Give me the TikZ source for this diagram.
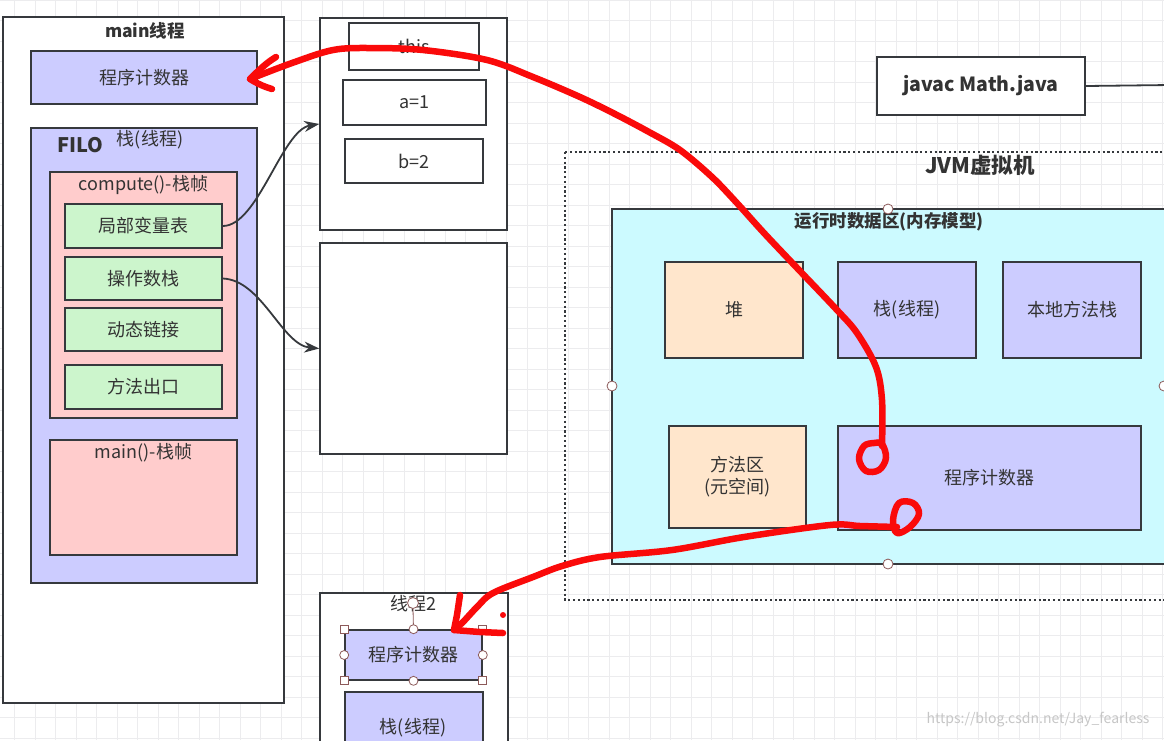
\documentclass[tikz,border=0pt]{standalone}
\usepackage{fontspec}
\setmainfont{Noto Sans CJK SC}
\usetikzlibrary{arrows.meta}
\definecolor{lc}{RGB}{54,57,61}
\definecolor{tc}{RGB}{51,51,51}
\definecolor{lav}{RGB}{204,204,255}
\definecolor{pinkf}{RGB}{255,204,204}
\definecolor{greenf}{RGB}{204,245,204}
\definecolor{peach}{RGB}{255,230,204}
\definecolor{cyanf}{RGB}{204,250,255}
\definecolor{gridc}{RGB}{236,236,238}
\definecolor{hdl}{RGB}{140,90,90}
\definecolor{penred}{RGB}{250,10,10}
\newcommand\fsz[2]{\fontsize{#1}{#2}\selectfont}
\tikzset{
  bx/.style={draw=lc, line width=1.6pt, inner sep=0pt, text=tc, font=\fsz{18}{22}, align=center},
  lbl/.style={inner sep=0pt, text=tc, font=\fsz{18}{22}, align=center},
  blbl/.style={inner sep=0pt, text=tc, font=\fsz{17.5}{21}\bfseries, align=center},
  conn/.style={draw=lc, line width=1.8pt, -{Stealth[length=15pt,width=11pt]}},
  redpen/.style={draw=penred, line width=6.5pt, line cap=round, line join=round},
  hcirc/.style={circle, draw=hdl, fill=white, line width=0.8pt, inner sep=0pt, minimum size=9pt},
  hsq/.style={rectangle, draw=hdl, fill=white, line width=0.8pt, inner sep=0pt, minimum size=8pt},
}
\begin{document}
\begin{tikzpicture}[x=1pt,y=-1pt]
\useasboundingbox (0,0) rectangle (1164,740);
\clip (0,0) rectangle (1164,740);
\fill[white] (0,0) rectangle (1164,740);
% grid
\foreach \k in {0,...,56} \draw[gridc, line width=0.8pt] ({14.5+20.5*\k},0) -- ({14.5+20.5*\k},740);
\foreach \k in {0,...,36} \draw[gridc, line width=0.8pt] (0,{20.5*\k}) -- (1164,{20.5*\k});

% ---------- main thread ----------
\node[bx, fill=white, minimum width=281pt, minimum height=686pt] (mainT) at (143.5,360) {};
\node[blbl] (mainTl) at (145,31) {main线程};
\node[bx, fill=lav, minimum width=226pt, minimum height=53pt] (pcL) at (144,77.5) {程序计数器};
\node[bx, fill=lav, minimum width=226pt, minimum height=455pt] (stackL) at (144,355.5) {};
\node[blbl, font=\fsz{20}{24}\bfseries] (filo) at (80,145) {FILO};
\node[lbl] (stackLl) at (150,140) {栈(线程)};
\node[bx, fill=pinkf, minimum width=187pt, minimum height=246pt] (computeF) at (143.5,295) {};
\node[lbl] (computeFl) at (143.5,185) {compute()-栈帧};
\node[bx, fill=greenf, minimum width=157pt, minimum height=44pt] (lv) at (143.5,226) {局部变量表};
\node[bx, fill=greenf, minimum width=157pt, minimum height=43pt] (os) at (143.5,278.5) {操作数栈};
\node[bx, fill=greenf, minimum width=157pt, minimum height=43pt] (dl) at (143.5,329.5) {动态链接};
\node[bx, fill=greenf, minimum width=157pt, minimum height=44pt] (me) at (143.5,387) {方法出口};
\node[bx, fill=pinkf, minimum width=187pt, minimum height=115pt] (mainF) at (143.5,497.5) {};
\node[lbl] (mainFl) at (143.5,453) {main()-栈帧};

% ---------- middle column ----------
\node[bx, fill=white, minimum width=187pt, minimum height=212pt] (frameA) at (413.5,124) {};
\node[bx, fill=white, minimum width=130pt, minimum height=47pt] (thisB) at (414,46.5) {this};
\node[bx, fill=white, minimum width=143pt, minimum height=45pt] (aB) at (414.5,102.5) {a=1};
\node[bx, fill=white, minimum width=138pt, minimum height=44pt] (bB) at (414,161) {b=2};
\node[bx, fill=white, minimum width=187pt, minimum height=211pt] (frameB) at (413.5,348.5) {};

\draw[conn] (lv.east) .. controls (258,226) and (282,130) .. (frameA.west);
\draw[conn] (os.east) .. controls (262,280) and (282,345) .. (frameB.west);

% ---------- thread 2 ----------
\node[bx, fill=white, minimum width=188pt, minimum height=170pt] (t2) at (414,678) {};
\node[lbl] (t2l) at (413,604) {线程2};
\node[bx, fill=lav, minimum width=137pt, minimum height=50pt] (pc2) at (413.5,655) {程序计数器};
\node[bx, fill=lav, minimum width=138pt, minimum height=80pt] (st2) at (414,732) {};
\node[lbl] (st2l) at (413,728) {栈(线程)};
% selection handles
\node[hcirc, minimum size=11pt] (rot) at (413,603) {};
\draw[hdl, line width=0.8pt] (rot.south) -- (pc2.north);
\node[hsq] at (pc2.north west) {};
\node[hsq] at (pc2.north east) {};
\node[hsq] at (pc2.south west) {};
\node[hsq] at (pc2.south east) {};
\node[hcirc] at (pc2.north) {};
\node[hcirc] at (pc2.south) {};
\node[hcirc] at (pc2.west) {};
\node[hcirc] at (pc2.east) {};

% ---------- javac ----------
\node[bx, fill=white, minimum width=208pt, minimum height=58pt, font=\fsz{19.5}{23}\bfseries] (javac) at (981,86) {javac Math.java};
\coordinate (javacR) at (1170,85);
\draw[lc, line width=1.8pt] (javac.east) -- (javacR);

% ---------- JVM ----------
\draw[lc, line width=2.2pt, dash pattern=on 2.2pt off 2.6pt] (565,152) -- (1180,152);
\draw[lc, line width=2.2pt, dash pattern=on 2.2pt off 2.6pt] (565,152) -- (565,600) -- (1180,600);
\node[blbl, font=\fsz{21.5}{25}\bfseries] (jvml) at (980,165) {JVM虚拟机};
\node[bx, fill=cyanf, minimum width=566pt, minimum height=355pt] (rt) at (895,386.5) {};
\node[blbl] (rtl) at (889,222) {运行时数据区(内存模型)};
\node[bx, fill=peach, minimum width=138pt, minimum height=96pt] (heap) at (734,310) {堆};
\node[bx, fill=lav, minimum width=138pt, minimum height=96pt] (stk) at (907,310) {栈(线程)};
\node[bx, fill=lav, minimum width=138pt, minimum height=96pt] (nat) at (1072,310) {本地方法栈};
\node[bx, fill=peach, minimum width=137pt, minimum height=102pt] (meth) at (737.5,477) {方法区\\(元空间)};
\node[bx, fill=lav, minimum width=303pt, minimum height=104pt] (pcJ) at (989.5,478) {程序计数器};
\node[hcirc, minimum size=10pt] at (888,209) {};
\node[hcirc, minimum size=10pt] at (612,386) {};
\node[hcirc, minimum size=10pt] at (888,564) {};
\node[hcirc, minimum size=10pt] at (1164,386) {};

% ---------- watermark ----------
\node[inner sep=0pt, text=gray!45, font=\fsz{14}{16}] (wm) at (1038,720) {https://blog.csdn.net/Jay\_fearless};

% ---------- red annotations ----------
\coordinate (tip1) at (250,79);
\coordinate (tip2) at (454,630);
\draw[redpen] plot[smooth, tension=0.55] coordinates {(882,446) (882,400) (876,367) (857,333) (837,310) (799,270) (764,233) (736,202) (712,177) (680,150) (649,132) (615,114) (580,97) (533,77) (487,60) (423,50) (370,48) (333,50) (292,63) (250,79)};
\draw[redpen] (276,57) .. controls (266,63) and (258,71) .. (tip1) .. controls (258,84) and (265,87) .. (272,89);
\draw[redpen] plot[smooth cycle, tension=0.6] coordinates {(882,444) (886,458) (879,470) (866,471) (859,459) (864,446) (874,443)};
\draw[redpen] plot[smooth cycle, tension=0.6] coordinates {(899,503) (913,503) (919,514) (910,527) (897,533) (893,520)};
\draw[redpen] plot[smooth, tension=0.55] coordinates {(897,527) (860,526) (830,525) (744,537) (672,550) (600,557) (562,566) (533,577) (493,593) (477,607) (463,622) (tip2)};
\draw[redpen] (460,595) -- (457,615) -- (tip2) -- (480,632) -- (503,633);
\fill[penred] (503,615) circle (3);
\end{tikzpicture}
\end{document}
